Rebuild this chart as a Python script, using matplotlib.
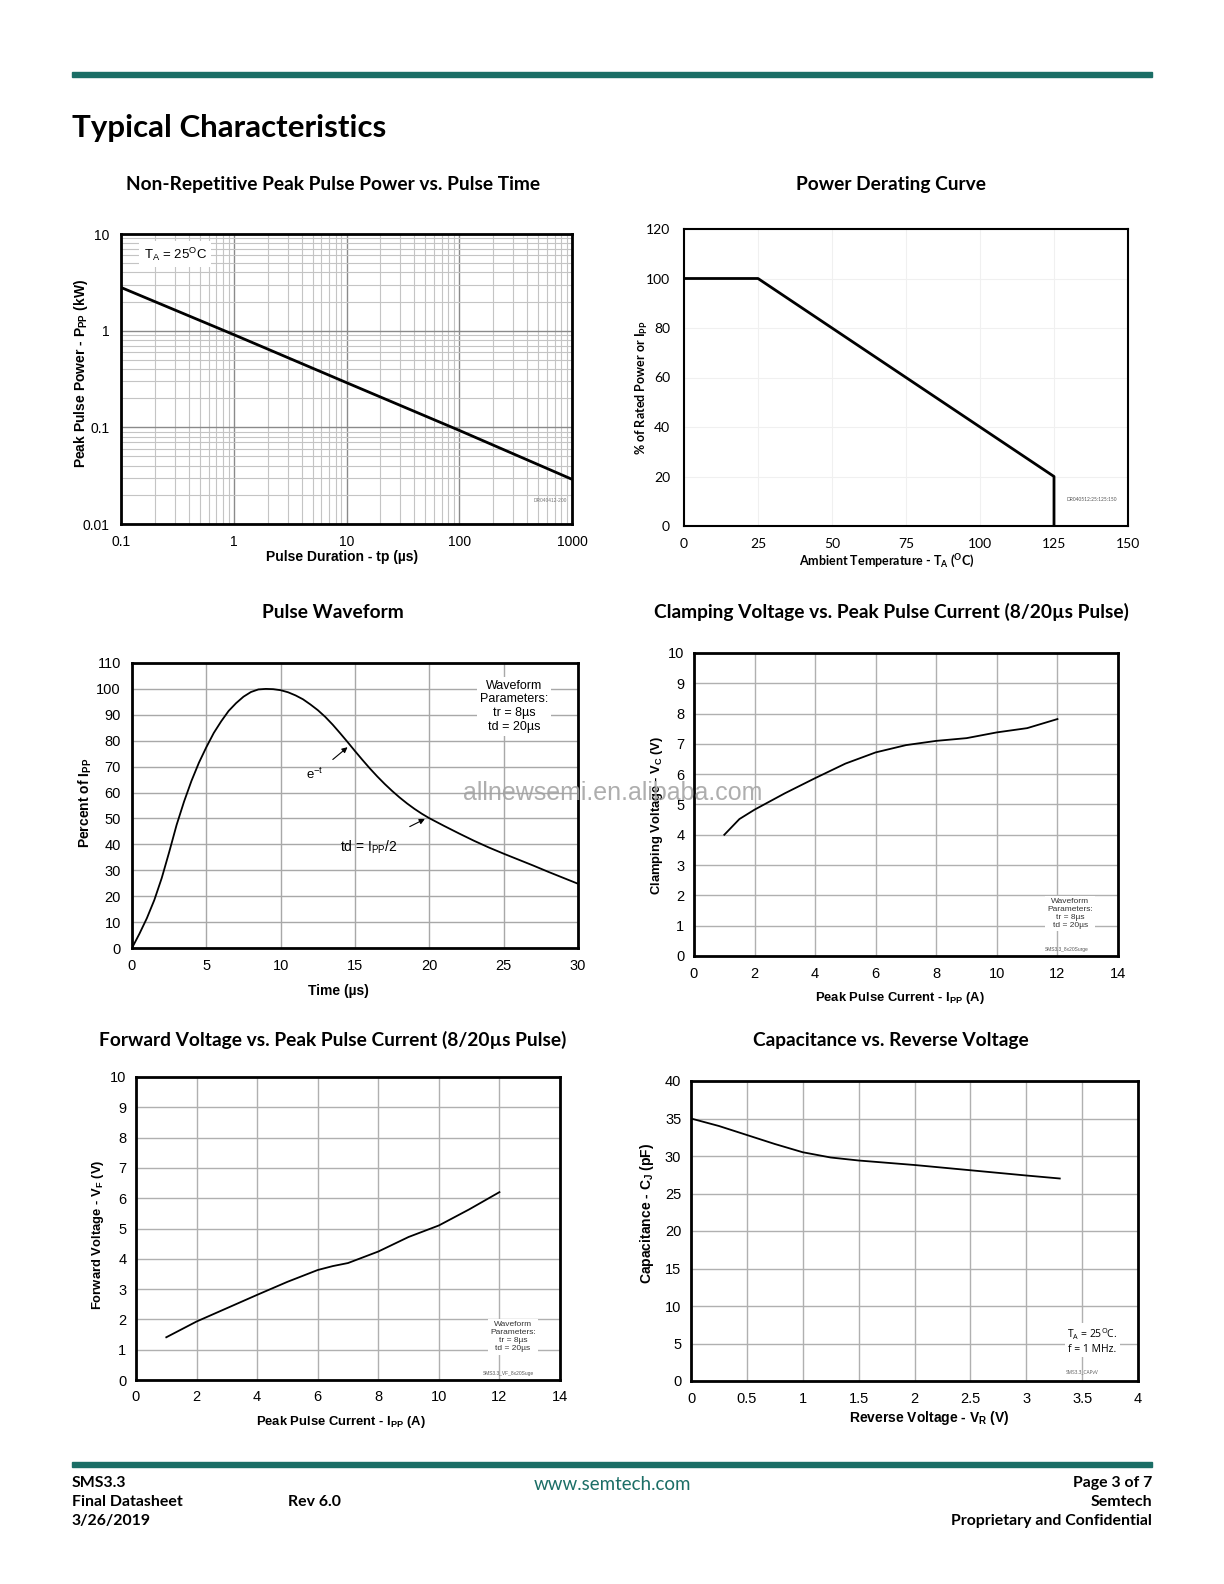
import matplotlib
matplotlib.use("Agg")
import matplotlib.pyplot as plt
from matplotlib.ticker import FixedLocator, NullFormatter

W, H = 1224, 1584
TEAL = "#1b6e66"
plt.rcParams['font.family'] = ['Liberation Sans', 'DejaVu Sans']
plt.rcParams['mathtext.default'] = 'regular'

# Non-repetitive peak pulse power
tp_us = [0.1, 1, 10, 100, 1000]
ppp_kw = [2.8, 0.91, 0.29, 0.093, 0.029]

# Power derating
temp_c = [0, 25, 125, 125]
rated_pct = [100, 100, 20, 0]

# Pulse waveform
pulse_t = [0, 0.5, 1, 1.5, 2, 2.5, 3, 3.5, 4, 4.5, 5, 5.5, 6, 6.5, 7, 7.5, 8, 8.5, 9, 9.5,
           10, 10.5, 11, 11.5, 12, 12.5, 13, 13.5, 14, 14.5, 15, 15.5, 16, 16.5, 17, 17.5,
           18, 18.5, 19, 19.5, 20, 20.5, 21, 22, 23, 24, 25, 26, 27, 28, 29, 30]
pulse_pct = [0, 5.5, 11.5, 18.5, 27, 37, 47.5, 56.5, 64.5, 71.5, 77.5, 83, 87.5, 91.5, 94.5, 97,
             98.8, 99.8, 100, 99.9, 99.5, 98.7, 97.5, 96, 94, 91.8, 89.2, 86.2, 82.9, 79.5,
             76, 72.6, 69.3, 66.2, 63.3, 60.6, 58.1, 55.8, 53.7, 51.8, 50.1, 48.6, 47.1, 44.2,
             41.4, 38.8, 36.4, 34.1, 31.8, 29.4, 27.1, 24.8]

# Clamping voltage
clamp_i = [1.0, 1.5, 2.0, 3.0, 4.0, 5.0, 6.0, 7.0, 8.0, 9.0, 10.0, 11.0, 12.0]
clamp_v = [4.0, 4.52, 4.83, 5.37, 5.87, 6.35, 6.72, 6.96, 7.1, 7.19, 7.38, 7.52, 7.82]

# Forward voltage
fwd_i = [1, 2, 3, 4, 5, 6, 6.5, 7, 8, 9, 10, 11, 12]
fwd_v = [1.41, 1.93, 2.37, 2.81, 3.24, 3.63, 3.76, 3.86, 4.24, 4.72, 5.1, 5.63, 6.2]

# Capacitance
cap_v = [0, 0.25, 0.5, 0.75, 1.0, 1.25, 1.5, 2.0, 2.5, 3.0, 3.3]
cap_c = [35.0, 34.0, 32.8, 31.6, 30.5, 29.8, 29.4, 28.8, 28.1, 27.4, 27.0]


def rect(l, t, r, b):
    return [l / W, 1 - b / H, (r - l) / W, (b - t) / H]


def ftext(x, y, s, **kw):
    fig.text(x / W, 1 - y / H, s, **kw)


def frame(ax, lw=2.0):
    for sp in ax.spines.values():
        sp.set_linewidth(lw)
        sp.set_color('black')
        sp.set_zorder(5)
    ax.tick_params(length=0, pad=8, labelsize=10.5)
    ax.tick_params(axis='y', pad=7)
    ax.set_axisbelow(True)


fig = plt.figure(figsize=(W / 100, H / 100), dpi=100)

# page header / footer
fig.patches.append(plt.Rectangle((72 / W, 1 - 77 / H), 1080 / W, 5 / H, transform=fig.transFigure,
                                 color=TEAL, zorder=0))
fig.patches.append(plt.Rectangle((72 / W, 1 - 1467 / H), 1080 / W, 5 / H, transform=fig.transFigure,
                                 color=TEAL, zorder=0))
ftext(72, 137, "Typical Characteristics", family='Lato', fontweight='bold', fontsize=22.5, va='baseline')

title_kw = dict(family='Lato', fontweight='bold', fontsize=13.8, ha='center', va='baseline')
ftext(333, 190, "Non-Repetitive Peak Pulse Power vs. Pulse Time", **title_kw)
ftext(891, 190, "Power Derating Curve", **title_kw)
ftext(333, 618, "Pulse Waveform", **title_kw)
ftext(891, 618, "Clamping Voltage vs. Peak Pulse Current (8/20\u00b5s Pulse)", **title_kw)
ftext(333, 1046, "Forward Voltage vs. Peak Pulse Current (8/20\u00b5s Pulse)", **title_kw)
ftext(891, 1046, "Capacitance vs. Reverse Voltage", **title_kw)

foot_kw = dict(family='Lato', fontweight='bold', fontsize=11.4, va='center')
ftext(72, 1483, "SMS3.3", **foot_kw)
ftext(72, 1502, "Final Datasheet", **foot_kw)
ftext(72, 1521, "3/26/2019", **foot_kw)
ftext(288, 1502, "Rev 6.0", **foot_kw)
ftext(1152, 1483, "Page 3 of 7", ha='right', **foot_kw)
ftext(1152, 1502, "Semtech", ha='right', **foot_kw)
ftext(1152, 1521, "Proprietary and Confidential", ha='right', **foot_kw)
ftext(612, 1484, "www.semtech.com", family='Lato', fontsize=13.5, color=TEAL, ha='center', va='center')

lab_kw = dict(fontweight='bold', fontsize=10, ha='center', va='center')
lab_kw_s = dict(fontweight='bold', fontsize=9.4, ha='center', va='center')

# ---- chart 1: log-log pulse power
ax1 = fig.add_axes(rect(121, 234, 572, 524))
ax1.plot(tp_us, ppp_kw, color='black', lw=2.0, zorder=4)
ax1.set_xscale('log')
ax1.set_yscale('log')
ax1.set_xlim(0.1, 1000)
ax1.set_ylim(0.01, 10)
ax1.xaxis.set_major_locator(FixedLocator([0.1, 1, 10, 100, 1000]))
ax1.set_xticklabels(['0.1', '1', '10', '100', '1000'])
ax1.yaxis.set_major_locator(FixedLocator([0.01, 0.1, 1, 10]))
ax1.set_yticklabels(['0.01', '0.1', '1', '10'])
ax1.xaxis.set_minor_formatter(NullFormatter())
ax1.yaxis.set_minor_formatter(NullFormatter())
ax1.grid(which='major', color='#8a8a8a', lw=1.0)
ax1.grid(which='minor', color='#c4c4c4', lw=0.8)
frame(ax1)
ax1.tick_params(which='both', length=0, labelsize=10)
ax1.tick_params(axis='y', pad=8.5)
ax1.tick_params(axis='x', pad=8)
ax1.text(0.05, 0.93, 'T$_{A}$ = 25$^{O}$C', transform=ax1.transAxes, fontsize=9.5, va='center',
         bbox=dict(facecolor='white', edgecolor='none', pad=3), zorder=6)
ax1.text(0.99, 0.075, 'DR040412-200', transform=ax1.transAxes, fontsize=3.5, color='#777777', ha='right')
ftext(342, 557, 'Pulse Duration - tp (\u00b5s)', **lab_kw)
ftext(81, 373, 'Peak Pulse Power - P$_{PP}$ (kW)', rotation=90, **lab_kw)

# ---- chart 2: derating
ax2 = fig.add_axes(rect(684, 229, 1128, 526))
ax2.plot(temp_c, rated_pct, color='black', lw=2.0, zorder=4)
ax2.set_xlim(0, 150)
ax2.set_ylim(0, 120)
ax2.set_xticks([0, 25, 50, 75, 100, 125, 150])
ax2.set_yticks([0, 20, 40, 60, 80, 100, 120])
ax2.grid(color='#f0f0f0', lw=0.8)
frame(ax2, lw=1.5)
for lb in ax2.get_xticklabels() + ax2.get_yticklabels():
    lb.set_family('Lato')
    lb.set_fontsize(10)
ax2.tick_params(axis='y', pad=10)
ax2.tick_params(axis='x', pad=9)
ax2.text(0.975, 0.088, 'DR040512:25:125:150', transform=ax2.transAxes, fontsize=3.5, color='#555555',
         ha='right', va='center', family='Lato')
ftext(887, 561, 'Ambient Temperature - T$_{A}$ ($^{O}$C)', family='Lato', fontweight='bold',
      fontsize=9, ha='center', va='center')
ftext(642, 388, '% of Rated Power or I$_{PP}$', family='Lato', fontweight='bold', fontsize=9,
      rotation=90, ha='center', va='center')

# ---- chart 3: pulse waveform
ax3 = fig.add_axes(rect(132, 663, 578, 948))
ax3.plot(pulse_t, pulse_pct, color='black', lw=1.3, zorder=4)
ax3.set_xlim(0, 30)
ax3.set_ylim(0, 110)
ax3.set_xticks(range(0, 31, 5))
ax3.set_yticks(range(0, 111, 10))
ax3.grid(color='#a8a8a8', lw=1.0)
frame(ax3)
ax3.tick_params(axis='y', pad=8)
ax3.text(25.7, 93.3, 'Waveform\nParameters:\ntr = 8\u00b5s\ntd = 20\u00b5s', ha='center', va='center',
         fontsize=9, linespacing=1.2, bbox=dict(facecolor='white', edgecolor='none', pad=2), zorder=6)
ax3.annotate('e$^{-t}$', xy=(14.5, 77.5), xytext=(12.3, 67), fontsize=9.5, ha='center', va='center',
             arrowprops=dict(arrowstyle='-|>', color='black', lw=0.8, mutation_scale=8,
                             shrinkA=6, shrinkB=0))
ax3.annotate('td = I$_{PP}$/2', xy=(19.7, 49.8), xytext=(15.9, 38.8), fontsize=10, ha='center', va='center',
             arrowprops=dict(arrowstyle='-|>', color='black', lw=0.8, mutation_scale=8,
                             shrinkA=15, shrinkB=0))
ftext(338, 991, 'Time (\u00b5s)', **lab_kw)
ftext(85, 803, 'Percent of I$_{PP}$', rotation=90, **lab_kw)

# ---- chart 4: clamping voltage
ax4 = fig.add_axes(rect(694, 653, 1118, 956))
ax4.plot(clamp_i, clamp_v, color='black', lw=1.3, zorder=4)
ax4.set_xlim(0, 14)
ax4.set_ylim(0, 10)
ax4.set_xticks(range(0, 15, 2))
ax4.set_yticks(range(0, 11))
ax4.grid(color='#b0b0b0', lw=1.0)
frame(ax4)
ax4.text(12.42, 1.39, 'Waveform\nParameters:\ntr = 8\u00b5s\ntd = 20\u00b5s', ha='center', va='center',
         fontsize=6, linespacing=1.2, color='#333333',
         bbox=dict(facecolor='white', edgecolor='none', pad=1.5), zorder=6)
ax4.text(12.3, 0.2, 'SMS3.3_8x20Surge', ha='center', va='center', fontsize=3.5, color='#555555', zorder=6)
ftext(900, 998, 'Peak Pulse Current - I$_{PP}$ (A)', **lab_kw_s)
ftext(657, 815, 'Clamping Voltage - V$_{C}$ (V)', rotation=90, **lab_kw_s)

# ---- chart 5: forward voltage
ax5 = fig.add_axes(rect(136, 1077, 560, 1380))
ax5.plot(fwd_i, fwd_v, color='black', lw=1.3, zorder=4)
ax5.set_xlim(0, 14)
ax5.set_ylim(0, 10)
ax5.set_xticks(range(0, 15, 2))
ax5.set_yticks(range(0, 11))
ax5.grid(color='#b0b0b0', lw=1.0)
frame(ax5)
ax5.tick_params(axis='x', pad=7)
ax5.text(12.45, 1.42, 'Waveform\nParameters:\ntr = 8\u00b5s\ntd = 20\u00b5s', ha='center', va='center',
         fontsize=6, linespacing=1.2, color='#333333',
         bbox=dict(facecolor='white', edgecolor='none', pad=1.5), zorder=6)
ax5.text(12.3, 0.2, 'SMS3.3_VF_8x20Suge', ha='center', va='center', fontsize=3.5, color='#555555', zorder=6)
ftext(341, 1422, 'Peak Pulse Current - I$_{PP}$ (A)', **lab_kw_s)
ftext(98, 1235, 'Forward Voltage - V$_{F}$ (V)', rotation=90, **lab_kw_s)

# ---- chart 6: capacitance
ax6 = fig.add_axes(rect(691, 1081, 1138, 1381))
ax6.plot(cap_v, cap_c, color='black', lw=1.3, zorder=4)
ax6.set_xlim(0, 4)
ax6.set_ylim(0, 40)
ax6.set_xticks([0, 0.5, 1, 1.5, 2, 2.5, 3, 3.5, 4])
ax6.set_xticklabels(['0', '0.5', '1', '1.5', '2', '2.5', '3', '3.5', '4'])
ax6.set_yticks(range(0, 41, 5))
ax6.grid(color='#b0b0b0', lw=1.0)
frame(ax6)
ax6.text(3.59, 5.4, 'T$_{A}$ = 25$^{O}$C.\nf = 1 MHz.', ha='center', va='center', family='Open Sans',
         fontsize=7.5, linespacing=1.25, bbox=dict(facecolor='white', edgecolor='none', pad=1.5), zorder=6)
ax6.text(3.5, 1.2, 'SMS3.3_CAPvV', ha='center', va='center', fontsize=3.5, color='#555555',
         family='Open Sans', zorder=6)
ftext(929, 1418, 'Reverse Voltage - V$_{R}$ (V)', **lab_kw)
ftext(647, 1213, 'Capacitance - C$_{J}$ (pF)', rotation=90, **lab_kw)

# watermark
ftext(613, 793, 'allnewsemi.en.alibaba.com', fontsize=18, color='#a0a0a0', alpha=0.85,
      ha='center', va='center', zorder=20)

fig.savefig('out.png', dpi=100)
